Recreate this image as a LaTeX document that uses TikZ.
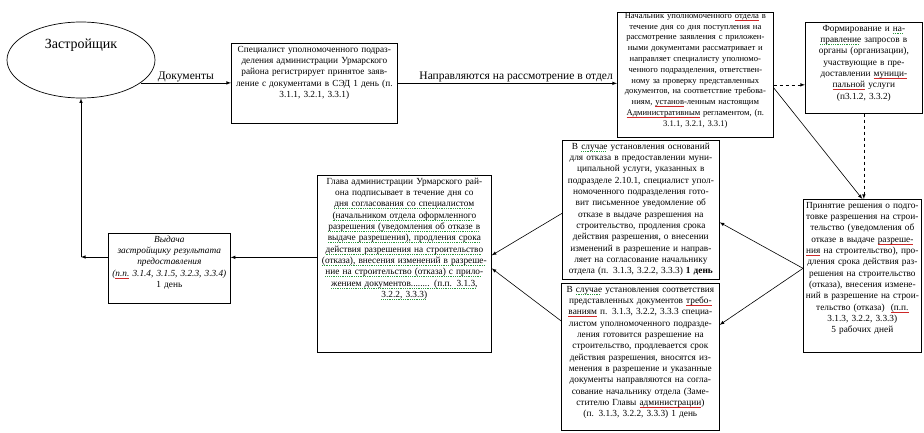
\documentclass[tikz,border=0pt]{standalone}
\usepackage{fontspec}
\setmainfont{Liberation Serif}
\usetikzlibrary{shapes.geometric}
\definecolor{spellred}{RGB}{205,40,40}
\definecolor{grammgreen}{RGB}{40,150,60}
\newsavebox{\ulbox}
\newcommand{\redul}[1]{\leavevmode\sbox{\ulbox}{#1}\rlap{\color{spellred}\rule[-2pt]{\wd\ulbox}{0.5pt}}\usebox{\ulbox}}
\newcommand{\grnul}[1]{\leavevmode\sbox{\ulbox}{#1}\rlap{\color{grammgreen}\lower2pt\hbox to \wd\ulbox{\leaders\hbox to 1.8pt{\vrule width 1pt height 0.5pt\hss}\hfill}}\usebox{\ulbox}}

\begin{document}
\begin{tikzpicture}[x=1pt, y=-1pt, >=latex,
  blk/.style = {draw, line width=0.7pt, anchor=north west, align=center, inner sep=2pt, text height=7pt, font=\fontsize{9.3}{11.3}\selectfont},
  conn/.style = {->, line width=0.6pt},
  lbl/.style = {above, inner sep=1pt, font=\fontsize{11.5}{13}\selectfont}]

\useasboundingbox (0,0) rectangle (924,433);

\node[draw, ellipse, line width=0.7pt, minimum width=148, minimum height=76] (zastr) at (81,60) {};
\node[font=\fontsize{14}{16}\selectfont] (zastrtxt) at (81,45) {Застройщик};

\node[blk, text width=162, text depth=69] (spec) at (231,43) {Специалист уполномоченного подраз-\\деления администрации Урмарского\\района регистрирует принятое заяв-\\ление с документами в СЭД 1 день (п.\\3.1.1, 3.2.1, 3.3.1)};

\node[blk, inner sep=1pt, text width=154, text height=5pt, text depth=118, font=\fontsize{8.6}{10.8}\selectfont] (nach) at (617,12) {Начальник уполномоченного \redul{отдела} в\\течение дня со дня поступления на\\рассмотрение заявления с приложен-\\ными документами рассматривает и\\направляет специалисту уполномо-\\ченного подразделения, ответствен-\\ному за проверку представленных\\документов, на соответствие требова-\\ниям, \redul{установ}-ленным настоящим\\\redul{Административным} регламентом, (п.\\3.1.1, 3.2.1, 3.3.1)};

\node[blk, text width=113, text depth=80] (form) at (805,22) {Формирование и \grnul{на-}\\\grnul{правление} запросов в\\органы (организации),\\участвующие в пре-\\доставлении \redul{муници-}\\\redul{пальной} услуги\\(п3.1.2, 3.3.2)};

\node[blk, text width=114, text depth=142] (prin) at (803,199) {Принятие решения о подго-\\товке разрешения на строи-\\тельство (уведомления об\\отказе в выдаче \redul{разреше-}\\\redul{ния} на строительство), про-\\дления срока действия раз-\\решения на строительство\\(отказа), внесения измене-\\ний в разрешение на строи-\\тельство (отказа) \ \redul{(п.п.}\\3.1.3, 3.2.2, 3.3.3)\\5 рабочих дней};

\node[blk, text width=153, text depth=128] (otkaz) at (562,140) {В \grnul{случае} установления оснований\\для отказа в предоставлении муни-\\ципальной услуги, указанных в\\подразделе 2.10.1, специалист упол-\\номоченного подразделения гото-\\вит письменное уведомление об\\отказе в выдаче разрешения на\\строительство, продления срока\\действия разрешения, о внесении\\изменений в разрешение и направ-\\ляет на согласование начальнику\\отдела (п. 3.1.3, 3.2.2, 3.3.3) \textbf{1 день}};

\node[blk, text width=154, text depth=136] (soot) at (561,283) {В \grnul{случае} установления соответствия\\представленных документов \redul{требо-}\\\redul{ваниям} п. 3.1.3, 3.2.2, 3.3.3 специа-\\листом уполномоченного подразде-\\ления готовится разрешение на\\строительство, продлевается срок\\действия разрешения, вносятся из-\\менения в разрешение и указанные\\документы направляются на согла-\\сование начальнику отдела (Заме-\\стителю Главы \redul{администрации})\\(п. 3.1.3, 3.2.2, 3.3.3) 1 день};

\node[blk, text width=170, text depth=166] (glava) at (317,175) {Глава администрации Урмарского рай-\\она подписывает в течение дня со\\\grnul{дня согласования со специалистом}\\\grnul{(начальником отдела оформленного}\\\grnul{разрешения (уведомления об отказе в}\\\grnul{выдаче разрешения), продления срока}\\\grnul{действия разрешения на строительство}\\\grnul{(отказа), внесения изменений в разреше-}\\\grnul{ние на строительство (отказа) с прило-}\\\grnul{жением документов........ (п.п. 3.1.3,}\\\grnul{3.2.2, 3.3.3)}};

\node[blk, text width=118, text depth=59] (vyd) at (108,233) {\textit{Выдача}\\\textit{застройщику результата}\\\textit{предоставления}\\\textit{(\redul{п.п.} 3.1.4, 3.1.5, 3.2.3, 3.3.4)}\\1 день};

\draw[conn] (zastr.-21) -- node[lbl] (doclbl) {Документы} (zastr.-21 -| spec.west);
\draw[conn] (spec.east) -- node[lbl, pos=0.54] (otdlbl) {Направляются на рассмотрение в отдел} (spec.east -| nach.west);
\draw[conn, dashed] ([yshift=-10pt]nach.east) -- ([yshift=-10pt]nach.east -| form.west);
\draw[conn] ([yshift=-13pt]nach.east) -- (prin.north);
\draw[conn, dashed] (form.south) -- (form.south |- prin.north);
\draw[conn] ([yshift=7.5pt]prin.west) -- ([yshift=-12.5pt]otkaz.east);
\draw[conn] ([yshift=7.5pt]prin.west) -- ([yshift=32pt]soot.east);
\draw[conn] ([yshift=-3.5pt]otkaz.west) -- ([yshift=8.5pt]glava.east);
\draw[conn] ([yshift=36pt]soot.west) -- ([yshift=-4.5pt]glava.east);
\draw[conn] ([yshift=6.5pt]glava.west) -- ([yshift=6.5pt]glava.west -| vyd.east);

\coordinate (turn) at (81,257);
\draw[conn] (vyd.west |- turn) -- (turn);
\draw[conn] (turn) -- (zastr.south);

\end{tikzpicture}
\end{document}
